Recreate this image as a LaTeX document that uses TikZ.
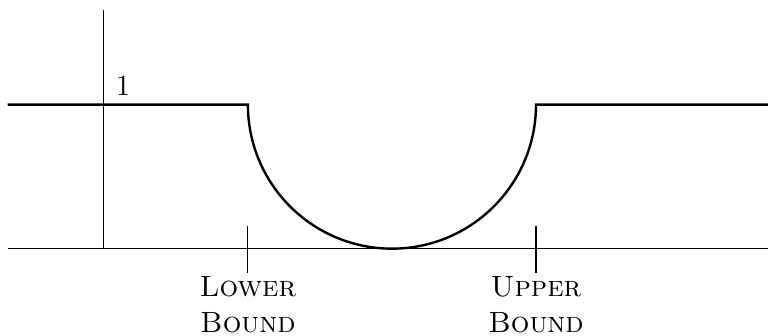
\documentclass[tikz,border=0pt]{standalone}
\usepackage{tikz}
\usetikzlibrary{positioning}
\begin{document}
\begin{tikzpicture}[font=\fontsize{11}{13.6}\selectfont,
  axis/.style={thin}, curve/.style={line width=0.9pt},
  bound/.style={align=center, font=\fontsize{11}{13.6}\selectfont\scshape,
    below=0pt, inner sep=1pt}]
\useasboundingbox (-1.37,-1.15) rectangle (8.76,3.28);
% ---------- axes ----------
\coordinate (xl) at (-1.27,0);
\coordinate (xr) at (8.76,0);
\coordinate (o) at (0,0);
\coordinate (yt) at (0,3.15);
\draw[axis] (xl) -- (xr);
\draw[axis] (o) -- (yt);
\node[anchor=south west, xshift=1pt] (one) at (0,1.9) {1};
% ---------- bounds ----------
\coordinate (lbtop) at (1.9,0.3);
\coordinate (lbbot) at (1.9,-0.32);
\coordinate (ubtop) at (5.7,0.3);
\coordinate (ubbot) at (5.7,-0.32);
\draw[axis] (lbtop) -- (lbbot);
\draw[axis] (ubtop) -- (ubbot);
\node[bound] (lower) at (lbbot) {Lower\\Bound};
\node[bound] (upper) at (ubbot) {Upper\\Bound};
% ---------- curve: level 1, dipping in a half circle ----------
\coordinate (left) at (-1.27,1.9);
\coordinate (lbup) at (1.9,1.9);
\coordinate (right) at (8.76,1.9);
\draw[curve] (left) -- (lbup) arc[start angle=180, end angle=360, radius=1.9] -- (right);
\end{tikzpicture}
\end{document}
